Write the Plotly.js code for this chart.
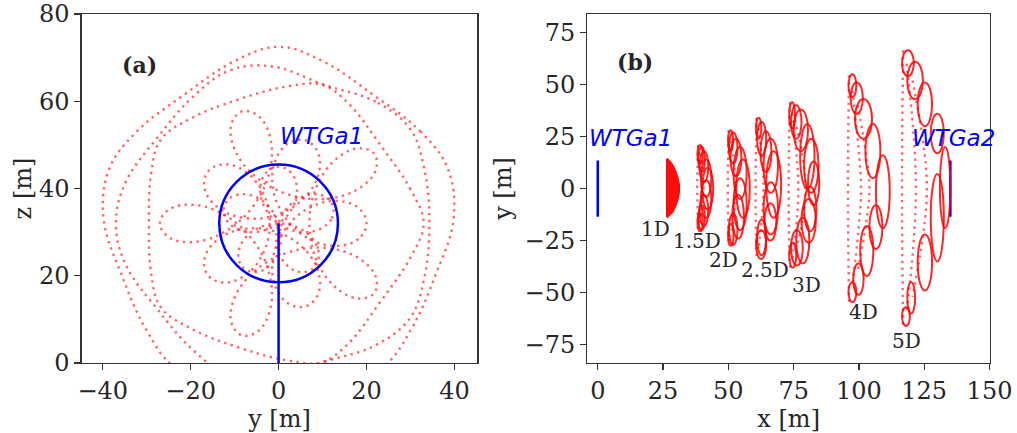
<!DOCTYPE html>
<html><head><meta charset="utf-8">
<script src="https://cdn.plot.ly/plotly-3.0.1.min.js"></script>
<style>html,body{margin:0;padding:0;background:#fff}#chart{width:1017px;height:433px}</style>
</head><body><div id="chart"></div>
<script>
// ---------- Panel (a): wake cross-sections (y, z) ----------
const hubY = 0, hubZ = 32, rotorR = 13.5;
const sec1D_y = [12.36,11.97,9.08,4.60,0,-3.23,-4.17,-2.80,0,2.80,4.17,3.23,0,-4.60,-9.08,-11.97,-12.36,-10.24,-6.5,-2.60,0,0.39,-1.44,-4.60,-7.64,-9.13,-8.19,-4.84,0,4.84,8.19,9.13,7.64,4.60,1.44,-0.39,0,2.60,6.5,10.24,12.36];
const sec1D_z = [36.02,32.94,30.56,30.10,32,35.78,40.19,43.68,45,43.68,40.19,35.78,32,30.10,30.56,32.94,36.02,38.28,38.5,36.24,32,27.04,22.92,20.90,21.48,24.20,27.83,30.84,32,30.84,27.83,24.20,21.48,20.90,22.92,27.04,32,36.24,38.5,38.28,36.02];
const sec15D_y = [20,18.15,13.24,7.02,1.62,-1.22,-0.82,2.21,6.18,9.00,9,5.56,-0.62,-7.78,-13.75,-16.78,-16.18,-12.58,-7.68,-3.58,-2,-3.58,-7.68,-12.58,-16.18,-16.78,-13.75,-7.78,-0.62,5.56,9,9.00,6.18,2.21,-0.82,-1.22,1.62,7.02,13.24,18.15,20];
const sec15D_z = [32,28.43,26.84,28.43,33.18,39.78,46.19,50.36,51.02,48.16,43,37.58,33.90,33.24,35.61,39.78,43.76,45.55,43.96,39.01,32,24.99,20.04,18.45,20.24,24.22,28.39,30.76,30.10,26.42,21,15.84,12.98,13.64,17.81,24.22,30.82,35.57,37.16,35.57,32];
const sec2D_y = [21.84,22.02,18.08,10.81,2.16,-5.43,-10,-10.75,-8.34,-4.63,-1.90,-2.02,-5.66,-12.06,-19.26,-24.88,-27,-24.88,-19.26,-12.06,-5.66,-2.02,-1.90,-4.63,-8.34,-10.75,-10,-5.43,2.16,10.81,18.08,22.02,21.84,18.24,13.08,8.70,7,8.70,13.08,18.24,21.84];
const sec2D_z = [47.87,44.02,39.88,37.64,38.66,42.91,49,54.67,57.68,56.66,51.63,44.02,36.12,30.21,27.74,28.78,32,35.22,36.26,33.79,27.88,19.98,12.37,7.34,6.32,9.33,15,21.09,25.34,26.36,24.12,19.98,16.13,14.77,17.24,23.46,32,40.54,46.76,49.23,47.87];
const sec25D_y = [33,30.0,23.2,15.8,9.9,2.5,-9.2,-20.1,-26.8,-29.0,-29.5,-29.0,-26.8,-20.1,-9.2,2.5,9.9,15.8,23.2,30.0,33];
const sec25D_z = [32,39.8,49.9,59.6,63.8,63.5,60.4,56.0,51.2,43.4,32,20.6,12.8,8.0,3.6,0.5,0.2,4.4,14.1,24.2,32];
const sec3D_y = [29.9,22.1,10.6,-1.5,-11.1,-19.4,-27.4,-34.9,-37.0,-34.9,-27.4,-19.4,-11.1,-1.5,10.6,22.1,29.9,33.1,34.3,33.1,29.9];
const sec3D_z = [53.7,59.9,63.7,68.0,67.1,61.1,51.9,41.2,32,22.8,12.1,2.9,-3.1,-4.0,0.3,4.1,10.3,19.3,32,44.7,53.7];
const sec35D_y = [38.52,32.32,21.45,9.99,0,-9.99,-21.45,-32.32,-38.52,-39.8,-35.72,-30.17,-23.81,-13.80,0,13.80,23.81,30.17,35.72,39.8,38.52];
const sec35D_z = [44.52,53.01,61.53,69.24,72.5,69.24,61.53,53.01,44.52,33,20.22,7.75,-0.77,-4.0,-4.5,-4.0,-0.77,7.75,20.22,33,44.52];

// ---------- Panel (b): side view (x, y) ----------
const turbineX = [0, 135];
const turbineNames = ['WTGa1', 'WTGa2'];
const fill1D_x = [26.3,26.7,27.6,28.8,29.9,30.8,31.3,31.4,31.3,30.8,29.9,28.8,27.6,26.7,26.3,26.2,26.3];
const fill1D_y = [14.0,14.6,13.4,11.4,8.4,5.0,1.8,0,-1.8,-5.0,-8.4,-11.4,-13.2,-14.0,-13.5,0,14.0];
// loops: [x0, x1, y0, y1]
const loops15D = [[38.2,40.2,12,21],[38.5,41,8,20],[39.0,42.3,3,18],[39.5,43.5,-4,14],[40.0,44.2,-10,10],[39.5,43.5,-14,4],[39.0,42.3,-18,-3],[38.5,41,-20,-8],[38.2,40.2,-20.5,-12]];
const loops2D = [[49.9,51.8,18,28],[50.2,53.5,12,27],[50.8,55.0,6,24],[52,57,-5,20],[53.0,58.2,-14,14],[52,57,-20,5],[51.5,56.0,-24,-3],[50.2,53.5,-27,-12],[49.9,52.0,-27.5,-17]];
const loops25D = [[60.6,62.6,24,34],[61,64.5,16,32],[62.3,66.5,8,27.5],[63.5,69,-2,24],[64.5,70.2,-14,18],[63.5,69,-22,3],[63.8,68.4,-25,-7],[61,64.5,-32,-15],[60.6,64.5,-33.8,-20]];
const loops3D = [[73.3,75.5,29,41.5],[74,78,24,40],[75.0,80.5,18,38],[77.5,83.0,0,31],[79,84.5,-2,24],[80.5,84.8,-8,13],[79.0,83.7,-20.5,1],[78,83.5,-26,-5],[76.0,81.0,-36,-14],[74,78.5,-37,-20],[73.3,76.0,-38,-26]];
const loops4D = [[96.0,99.0,44,55],[96.8,101.5,36,51],[98.5,105.0,24,43],[102.5,108.2,5,31],[106.5,111.8,-19,16],[104.0,109.0,-29,-8],[100.5,105.5,-42,-18],[97.8,101.8,-51,-36],[96.0,99.0,-54.5,-45]];
const loops5D = [[116.5,121.0,54,66.5],[118.5,124.5,43,61],[122.5,128.0,30,51],[127.5,132.5,17,36],[131.0,135.0,-19,20],[127.5,132.5,-35,7],[122.5,128.0,-49,-22],[118.5,121.5,-60,-45],[116.5,119.5,-66,-57]];
// sparse inner strands: [xs, ys]
const strands = [
  [[38.4,38.2,38.1,38.2,38.4],[21,9,0,-9,-20.5]],
  [[38.9,40,40.5,40,38.9],[17,7,0,-7,-17]],
  [[50.1,49.9,49.8,49.9,50.1],[28,12,0,-12,-27.5]],
  [[50.8,52.3,52.8,52.3,50.8],[23,10,0,-10,-23]],
  [[60.8,60.5,60.4,60.5,60.8],[34,15,0,-15,-33.8]],
  [[61.5,63,63.5,63,61.5],[29,12,0,-12,-29]],
  [[73.6,73.2,73.1,73.2,73.6],[41.5,20,0,-20,-38]],
  [[74.5,76,76.8,76,74.5],[36,18,0,-18,-34]],
  [[75.5,78.5,79.5,78.5,75.5],[33,15,0,-15,-30]],
  [[96.2,95.9,95.8,95.9,96.2],[54.5,25,0,-25,-54.5]],
  [[97.5,99.8,100.8,99.8,97.5],[47,20,0,-20,-47]],
  [[99.5,102.8,104,102.8,99.5],[40,16,0,-16,-40]],
  [[116.9,116.6,116.5,116.6,116.9],[66.5,30,0,-30,-66]],
  [[118.2,120.8,121.8,120.8,118.2],[60,28,0,-28,-60]],
  [[120.5,124.6,126,124.6,120.5],[52,22,0,-22,-52]]
];
const distLabels = ['1D','1.5D','2D','2.5D','3D','4D','5D'];
const distLabelX = [22.2,38.0,48.0,63.9,79.8,101.8,118.1];
const distLabelY = [-19.4,-25.3,-34.5,-39.3,-46.4,-59.1,-73.4];

const RED = 'rgba(255,0,0,0.6)';
const dotLine = {color: RED, width: 2.4, dash: '2.4px,4.4px', shape: 'spline', smoothing: 1.1};
const traces = [];
[[sec1D_y,sec1D_z],[sec15D_y,sec15D_z],[sec2D_y,sec2D_z],[sec25D_y,sec25D_z],[sec3D_y,sec3D_z],[sec35D_y,sec35D_z]].forEach(p => {
  traces.push({x:p[0], y:p[1], mode:'lines', line:dotLine, xaxis:'x', yaxis:'y', hoverinfo:'skip'});
});
// tower
traces.push({x:[hubY,hubY], y:[0,hubZ], mode:'lines', line:{color:'#0000ff', width:2.5}, xaxis:'x', yaxis:'y', hoverinfo:'skip'});
// panel b
strands.forEach(s => traces.push({x:s[0], y:s[1], mode:'lines', line:dotLine, xaxis:'x2', yaxis:'y2', hoverinfo:'skip'}));
traces.push({x:fill1D_x, y:fill1D_y, mode:'lines', fill:'toself', fillcolor:'rgba(255,0,0,0.95)', line:{color:'#ff0000', width:1}, xaxis:'x2', yaxis:'y2', hoverinfo:'skip'});
turbineX.forEach(tx => traces.push({x:[tx,tx], y:[-rotorR,rotorR], mode:'lines', line:{color:'#0000ff', width:2.5}, xaxis:'x2', yaxis:'y2', hoverinfo:'skip'}));

const shapes = [{type:'circle', xref:'x', yref:'y', x0:hubY-rotorR, x1:hubY+rotorR, y0:hubZ-rotorR, y1:hubZ+rotorR, line:{color:'#0000ff', width:2.5}}];
[loops15D, loops2D, loops25D, loops3D, loops4D, loops5D].forEach(g => g.forEach(l => {
  shapes.push({type:'circle', xref:'x2', yref:'y2', x0:l[0], x1:l[1], y0:l[2], y1:l[3], line:{color:'rgba(255,0,0,0.85)', width:2}, layer:'above'});
}));

const serif = 'DejaVu Serif, serif';
const annotations = [
  {text:'<b>(a)</b>', xref:'x domain', yref:'y domain', x:0.0976, y:0.896, showarrow:false, font:{family:serif, size:22, color:'#262626'}},
  {text:'<b>(b)</b>', xref:'x2 domain', yref:'y2 domain', x:0.069, y:0.905, showarrow:false, font:{family:serif, size:22, color:'#262626'}},
  {text:turbineNames[0], xref:'x', yref:'y', x:9.7, y:52.0, showarrow:false, font:{family:'DejaVu Sans, sans-serif', size:23, color:'#0000ff', style:'italic'}},
  {text:turbineNames[0], xref:'x2', yref:'y2', x:12.4, y:24.5, showarrow:false, font:{family:'DejaVu Sans, sans-serif', size:23, color:'#0000ff', style:'italic'}},
  {text:turbineNames[1], xref:'x2', yref:'y2', x:136.2, y:24.5, showarrow:false, font:{family:'DejaVu Sans, sans-serif', size:23, color:'#0000ff', style:'italic'}}
];
distLabels.forEach((t,i) => annotations.push({text:t, xref:'x2', yref:'y2', x:distLabelX[i], y:distLabelY[i], showarrow:false, font:{family:serif, size:20, color:'#262626'}}));

const axisCommon = {showgrid:false, zeroline:false, showline:true, mirror:true, linecolor:'#333333', linewidth:1.3,
  ticks:'outside', ticklen:6, tickwidth:1.3, tickcolor:'#333333', tickfont:{family:serif, size:24, color:'#262626'},
  ticklabeloverflow:'allow', automargin:false};
const yDom = [0.1617, 0.9677];
const layout = {
  width:1017, height:433, margin:{l:0, r:0, t:0, b:0}, paper_bgcolor:'#ffffff', plot_bgcolor:'#ffffff', showlegend:false,
  font:{family:serif, color:'#262626'},
  xaxis: Object.assign({}, axisCommon, {domain:[0.0803,0.4693], range:[-44.8,45.2], tickvals:[-40,-20,0,20,40], anchor:'y',
    title:{text:'y [m]', font:{family:serif, size:24, color:'#262626'}, standoff:0}}),
  yaxis: Object.assign({}, axisCommon, {domain:yDom, range:[0,80.02], tickvals:[0,20,40,60,80], anchor:'x',
    title:{text:'z [m]', font:{family:serif, size:24, color:'#262626'}, standoff:0}}),
  xaxis2: Object.assign({}, axisCommon, {domain:[0.5775,0.9735], range:[-4,150.2], tickvals:[0,25,50,75,100,125,150], anchor:'y2',
    title:{text:'x [m]', font:{family:serif, size:24, color:'#262626'}, standoff:0}}),
  yaxis2: Object.assign({}, axisCommon, {domain:yDom, range:[-83.8,83.9], tickvals:[-75,-50,-25,0,25,50,75], anchor:'x2',
    title:{text:'y [m]', font:{family:serif, size:24, color:'#262626'}, standoff:6}}),
  shapes: shapes, annotations: annotations
};
Plotly.newPlot('chart', traces, layout, {staticPlot:true, displayModeBar:false});
</script></body></html>
